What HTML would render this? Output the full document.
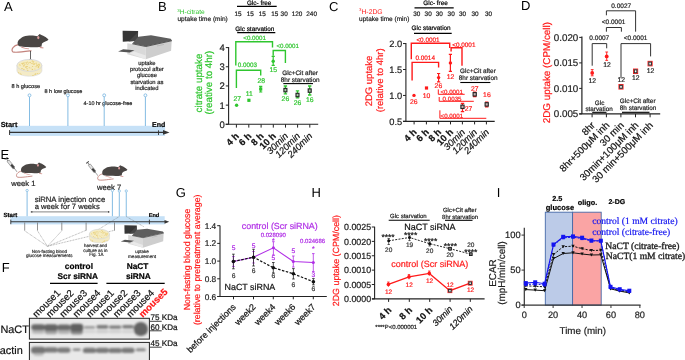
<!DOCTYPE html>
<html><head><meta charset="utf-8"><title>Figure</title>
<style>html,body{margin:0;padding:0;background:#fff;width:685px;height:360px;overflow:hidden}svg{display:block;filter:blur(0.3px)}</style>
</head><body>
<svg width="685" height="360" viewBox="0 0 685 360" text-rendering="geometricPrecision" font-family="&apos;Liberation Sans&apos;, sans-serif">
<rect width="685" height="360" fill="#fff"/>
<text x="4.0" y="10.8" font-size="13">A</text>
<g>
<path d="M18.4 44.6 C13.5 45.3 10.8 49.4 12.6 51.7 C14.5 53.1 24 51.7 31.5 50.7" stroke="#c4847e" stroke-width="1.1" fill="none"/>
<path d="M17.6 43.8 C17.3 41.4 18.6 39.4 20.6 38.4 C22.6 36.7 24.8 36.0 27.2 35.8 C30.2 35.4 32.6 35.5 34.6 35.8 C35.8 36.0 36.6 36.1 37.4 36.2 L39.6 34.0 L41.4 35.0 C43.7 35.6 46.4 37.6 48.5 39.5 C47.7 40.5 46.8 41.0 45.9 41.2 C44.3 41.7 43.0 42.6 42.0 43.6 L41.4 46.7 L39.4 47.0 C37.5 47.2 35.6 47.3 34.0 47.2 C31.5 47.2 29.5 47.1 28.0 47.0 C24.4 47.0 21.0 46.9 19.4 46.3 C18.3 45.8 17.7 44.9 17.6 43.8 Z" fill="#4a4644"/>
<ellipse cx="38.3" cy="37.6" rx="1.1" ry="1.6" fill="#d99c9c"/>
<path d="M40.0 46.6 L43.6 47.6 L43.3 48.4 L39.6 47.9 Z" fill="#d49a96"/>
<path d="M21.5 46.6 C24 47.8 27 48.4 29.2 48.6 L28.8 49.2 C25.5 49.1 22.5 48.3 20.8 47.2 Z" fill="#d49a96"/>
<circle cx="45.2" cy="37.9" r="0.45" fill="#222"/>
</g>
<line x1="30.5" y1="51" x2="30.5" y2="59.5" stroke="#222" stroke-width="0.7" />
<path d="M29.2 59.2 L31.8 59.2 L30.5 61.7 Z" stroke="none" stroke-width="1" fill="#222" />
<g>
<path d="M16.9 65.4 L16.9 70.5 C16.9 74 22.5 76.2 29.4 76.2 C36.3 76.2 41.9 74 41.9 70.5 L41.9 65.4 Z" fill="#f4ebc6" stroke="#d8d8dc" stroke-width="0.6"/>
<ellipse cx="29.4" cy="65.4" rx="12.5" ry="6" fill="#f5ecc4" stroke="#d4d6dc" stroke-width="0.8"/>
<g fill="#e6cc72" opacity="0.9">
<ellipse cx="23.5" cy="66.1" rx="0.65" ry="0.50"/><ellipse cx="32.2" cy="61.1" rx="0.51" ry="0.56"/><ellipse cx="24.0" cy="62.8" rx="0.90" ry="0.47"/><ellipse cx="36.9" cy="65.4" rx="0.76" ry="0.39"/><ellipse cx="32.4" cy="69.4" rx="0.71" ry="0.54"/><ellipse cx="35.2" cy="66.5" rx="0.62" ry="0.36"/><ellipse cx="37.6" cy="65.3" rx="0.79" ry="0.57"/><ellipse cx="27.0" cy="68.7" rx="0.68" ry="0.58"/><ellipse cx="32.2" cy="63.5" rx="0.70" ry="0.45"/><ellipse cx="26.1" cy="66.5" rx="0.73" ry="0.58"/><ellipse cx="33.2" cy="62.1" rx="0.84" ry="0.59"/><ellipse cx="38.5" cy="66.3" rx="0.79" ry="0.40"/><ellipse cx="36.8" cy="66.4" rx="0.61" ry="0.37"/><ellipse cx="27.4" cy="62.0" rx="0.62" ry="0.54"/><ellipse cx="34.3" cy="63.8" rx="0.85" ry="0.60"/><ellipse cx="22.6" cy="64.6" rx="0.74" ry="0.39"/><ellipse cx="38.3" cy="64.3" rx="0.68" ry="0.48"/><ellipse cx="32.6" cy="66.6" rx="0.72" ry="0.51"/><ellipse cx="39.3" cy="65.7" rx="0.67" ry="0.53"/><ellipse cx="23.5" cy="63.5" rx="0.89" ry="0.48"/><ellipse cx="27.5" cy="66.4" rx="0.51" ry="0.50"/><ellipse cx="32.4" cy="61.0" rx="0.75" ry="0.47"/><ellipse cx="33.4" cy="64.1" rx="0.78" ry="0.53"/><ellipse cx="23.8" cy="65.1" rx="0.74" ry="0.43"/><ellipse cx="26.4" cy="63.7" rx="0.65" ry="0.50"/><ellipse cx="24.9" cy="64.3" rx="0.81" ry="0.36"/><ellipse cx="31.0" cy="68.0" rx="0.62" ry="0.41"/><ellipse cx="36.2" cy="62.9" rx="0.57" ry="0.46"/><ellipse cx="33.8" cy="61.5" rx="0.63" ry="0.43"/><ellipse cx="36.9" cy="65.0" rx="0.84" ry="0.39"/><ellipse cx="25.7" cy="67.2" rx="0.85" ry="0.46"/><ellipse cx="30.1" cy="62.4" rx="0.82" ry="0.56"/><ellipse cx="22.3" cy="63.3" rx="0.82" ry="0.51"/><ellipse cx="36.3" cy="64.0" rx="0.55" ry="0.42"/><ellipse cx="36.0" cy="63.2" rx="0.64" ry="0.45"/><ellipse cx="27.6" cy="64.7" rx="0.87" ry="0.39"/><ellipse cx="27.9" cy="70.3" rx="0.87" ry="0.41"/><ellipse cx="34.9" cy="69.1" rx="0.77" ry="0.48"/><ellipse cx="24.7" cy="63.9" rx="0.59" ry="0.37"/><ellipse cx="31.4" cy="63.4" rx="0.82" ry="0.36"/><ellipse cx="38.4" cy="67.6" rx="0.87" ry="0.57"/><ellipse cx="38.4" cy="66.4" rx="0.51" ry="0.54"/><ellipse cx="22.0" cy="63.5" rx="0.77" ry="0.48"/><ellipse cx="27.5" cy="70.2" rx="0.74" ry="0.44"/><ellipse cx="23.9" cy="69.4" rx="0.69" ry="0.55"/><ellipse cx="26.1" cy="62.5" rx="0.71" ry="0.55"/><ellipse cx="22.0" cy="68.6" rx="0.87" ry="0.55"/><ellipse cx="32.3" cy="69.4" rx="0.52" ry="0.42"/><ellipse cx="24.2" cy="65.9" rx="0.67" ry="0.47"/><ellipse cx="20.1" cy="65.6" rx="0.63" ry="0.43"/><ellipse cx="26.1" cy="67.1" rx="0.73" ry="0.44"/><ellipse cx="22.5" cy="63.8" rx="0.55" ry="0.49"/><ellipse cx="34.2" cy="64.4" rx="0.53" ry="0.39"/><ellipse cx="26.6" cy="66.7" rx="0.81" ry="0.45"/><ellipse cx="36.1" cy="66.9" rx="0.67" ry="0.44"/><ellipse cx="29.3" cy="67.7" rx="0.67" ry="0.52"/><ellipse cx="28.5" cy="62.9" rx="0.71" ry="0.52"/><ellipse cx="19.8" cy="64.8" rx="0.67" ry="0.57"/><ellipse cx="39.2" cy="64.3" rx="0.86" ry="0.55"/><ellipse cx="24.1" cy="65.2" rx="0.55" ry="0.55"/><ellipse cx="32.9" cy="75.5" rx="0.7" ry="0.4"/><ellipse cx="35.7" cy="74.7" rx="0.7" ry="0.4"/><ellipse cx="34.4" cy="74.8" rx="0.7" ry="0.4"/><ellipse cx="20.8" cy="74.1" rx="0.7" ry="0.4"/><ellipse cx="18.7" cy="72.5" rx="0.7" ry="0.4"/><ellipse cx="35.3" cy="73.8" rx="0.7" ry="0.4"/><ellipse cx="20.6" cy="73.2" rx="0.7" ry="0.4"/><ellipse cx="37.6" cy="73.5" rx="0.7" ry="0.4"/><ellipse cx="19.1" cy="73.8" rx="0.7" ry="0.4"/><ellipse cx="21.2" cy="74.6" rx="0.7" ry="0.4"/><ellipse cx="33.1" cy="75.4" rx="0.7" ry="0.4"/><ellipse cx="39.2" cy="73.7" rx="0.7" ry="0.4"/><ellipse cx="35.9" cy="73.7" rx="0.7" ry="0.4"/><ellipse cx="35.2" cy="74.6" rx="0.7" ry="0.4"/>
</g>
</g>
<text x="11.5" y="87.8" font-size="5.6" fill="#222" stroke="#222" stroke-width="0.2">8 h glucose</text>
<text x="44.5" y="92.7" font-size="5.5" fill="#222" stroke="#222" stroke-width="0.2">8 h low glucose</text>
<text x="83.6" y="105.0" font-size="5.45" fill="#222" stroke="#222" stroke-width="0.2">4-10 hr glucose-free</text>
<g>
<path d="M127.3 43.2 L127.3 54.2 L145.8 59.2 L145.8 46.2 Z" fill="#d9d9d9"/>
<path d="M145.8 46.2 L171.7 40.5 L171.1 50.8 L145.8 59.2 Z" fill="#cecece"/>
<path d="M122.6 30.8 L138.1 31.1 L137.9 40.8 L122.8 41.7 Z" fill="#363636"/>
<path d="M128.5 41.5 L137.9 32.2 L137.9 40.8 Z" fill="#474747"/>
<path d="M132.3 43.6 L138.3 36.7 L151 35.3 L170.7 38.8 L171.9 40.4 L145.8 46.2 Z" fill="#5e5e5e"/>
<path d="M132.3 43.8 L145.8 46.5 L171.9 40.7" stroke="#3a3a3a" stroke-width="0.8" fill="none"/>
<path d="M118.1 51.4 L123.2 49.2 L134.5 50.2 L129.6 52.4 Z" fill="#555"/>
<path d="M129.6 53.6 L134.2 51.6 L145.8 55.6 L145.8 59.2 Z" fill="#e9e9e9"/>
<line x1="157" y1="46" x2="164" y2="44.4" stroke="#999" stroke-width="0.4"/>
</g>
<text x="146.9" y="65.2" font-size="5.8" fill="#222" stroke="#222" stroke-width="0.2" text-anchor="middle">uptake</text>
<text x="146.9" y="71.3" font-size="5.8" fill="#222" stroke="#222" stroke-width="0.2" text-anchor="middle">protocol after</text>
<text x="146.9" y="77.4" font-size="5.8" fill="#222" stroke="#222" stroke-width="0.2" text-anchor="middle">glucose</text>
<text x="146.9" y="83.5" font-size="5.8" fill="#222" stroke="#222" stroke-width="0.2" text-anchor="middle">starvation as</text>
<text x="146.9" y="89.6" font-size="5.8" fill="#222" stroke="#222" stroke-width="0.2" text-anchor="middle">indicated</text>
<rect x="10.1" y="125.8" width="155" height="10.1" fill="#c6e1f7"/>
<line x1="29.5" y1="96.8" x2="29.5" y2="126" stroke="#76b4e0" stroke-width="0.9" />
<circle cx="29.5" cy="95.3" r="1.45" fill="#fff" stroke="#76b4e0" stroke-width="0.8"/>
<line x1="67.9" y1="96.8" x2="67.9" y2="126" stroke="#76b4e0" stroke-width="0.9" />
<circle cx="67.9" cy="95.3" r="1.45" fill="#fff" stroke="#76b4e0" stroke-width="0.8"/>
<line x1="104.2" y1="96.8" x2="104.2" y2="126" stroke="#76b4e0" stroke-width="0.9" />
<circle cx="104.2" cy="95.3" r="1.45" fill="#fff" stroke="#76b4e0" stroke-width="0.8"/>
<line x1="145.4" y1="96.8" x2="145.4" y2="126" stroke="#76b4e0" stroke-width="0.9" />
<circle cx="145.4" cy="95.3" r="1.45" fill="#fff" stroke="#76b4e0" stroke-width="0.8"/>
<text x="0.7" y="127.1" font-size="7.3" stroke="#000" stroke-width="0.2" font-weight="bold">Start</text>
<text x="152" y="127.2" font-size="7" stroke="#000" stroke-width="0.2" font-weight="bold">End</text>
<line x1="9.5" y1="132.4" x2="165" y2="132.4" stroke="#333" stroke-width="1.2" />
<path d="M163 130.1 L169.5 132.4 L163 134.7 Z" stroke="none" stroke-width="1" fill="#333" />
<line x1="9.6" y1="130.1" x2="9.6" y2="135" stroke="#333" stroke-width="1" />
<line x1="158.5" y1="130.3" x2="158.5" y2="135" stroke="#333" stroke-width="0.9" />
<text x="157.9" y="10.8" font-size="13">B</text>
<text x="177.3" y="13.9" font-size="6.6" fill="#2fc62f"><tspan font-size="4.4" dy="-2.4">3</tspan><tspan dy="2.4">H-citrate</tspan></text>
<text x="177.5" y="20.9" font-size="6.5" fill="#222" stroke="#222" stroke-width="0.2">uptake time (min)</text>
<text x="246.9" y="4.9" font-size="6.4" stroke="#000" stroke-width="0.2">Glc- free</text>
<line x1="237" y1="6.4" x2="276.7" y2="6.4" stroke="#000" stroke-width="1.1" />
<text x="234.5" y="15.8" font-size="6.4" fill="#222" stroke="#222" stroke-width="0.2">15</text>
<text x="246.7" y="15.8" font-size="6.4" fill="#222" stroke="#222" stroke-width="0.2">15</text>
<text x="258.8" y="15.8" font-size="6.4" fill="#222" stroke="#222" stroke-width="0.2">15</text>
<text x="271.3" y="15.8" font-size="6.4" fill="#222" stroke="#222" stroke-width="0.2">15</text>
<text x="280.6" y="15.8" font-size="6.4" fill="#222" stroke="#222" stroke-width="0.2">30</text>
<text x="291.7" y="15.8" font-size="6.4" fill="#222" stroke="#222" stroke-width="0.2">120</text>
<text x="306.3" y="15.8" font-size="6.4" fill="#222" stroke="#222" stroke-width="0.2">240</text>
<text x="235.3" y="31" font-size="6.4" stroke="#000" stroke-width="0.2">Glc starvation</text>
<line x1="237.2" y1="32.6" x2="275.3" y2="32.6" stroke="#000" stroke-width="1.1" />
<line x1="228.6" y1="47.0" x2="228.6" y2="124.3" stroke="#222" stroke-width="1.1" />
<line x1="225.6" y1="124.3" x2="318.2" y2="124.3" stroke="#222" stroke-width="1.1" />
<line x1="225.8" y1="124.3" x2="228.6" y2="124.3" stroke="#222" stroke-width="1" />
<text x="224.9" y="127.7" font-size="9.5" fill="#222" stroke="#222" stroke-width="0.2" text-anchor="end">0</text>
<line x1="225.8" y1="105.125" x2="228.6" y2="105.125" stroke="#222" stroke-width="1" />
<text x="224.9" y="108.525" font-size="9.5" fill="#222" stroke="#222" stroke-width="0.2" text-anchor="end">1</text>
<line x1="225.8" y1="85.94999999999999" x2="228.6" y2="85.94999999999999" stroke="#222" stroke-width="1" />
<text x="224.9" y="89.35" font-size="9.5" fill="#222" stroke="#222" stroke-width="0.2" text-anchor="end">2</text>
<line x1="225.8" y1="66.77499999999999" x2="228.6" y2="66.77499999999999" stroke="#222" stroke-width="1" />
<text x="224.9" y="70.175" font-size="9.5" fill="#222" stroke="#222" stroke-width="0.2" text-anchor="end">3</text>
<line x1="225.8" y1="47.599999999999994" x2="228.6" y2="47.599999999999994" stroke="#222" stroke-width="1" />
<text x="224.9" y="50.99999999999999" font-size="9.5" fill="#222" stroke="#222" stroke-width="0.2" text-anchor="end">4</text>
<line x1="236.4" y1="124.3" x2="236.4" y2="127.6" stroke="#222" stroke-width="1" />
<line x1="248.8" y1="124.3" x2="248.8" y2="127.6" stroke="#222" stroke-width="1" />
<line x1="261.1" y1="124.3" x2="261.1" y2="127.6" stroke="#222" stroke-width="1" />
<line x1="273.3" y1="124.3" x2="273.3" y2="127.6" stroke="#222" stroke-width="1" />
<line x1="285.5" y1="124.3" x2="285.5" y2="127.6" stroke="#222" stroke-width="1" />
<line x1="297.6" y1="124.3" x2="297.6" y2="127.6" stroke="#222" stroke-width="1" />
<line x1="309.8" y1="124.3" x2="309.8" y2="127.6" stroke="#222" stroke-width="1" />
<text x="239.6" y="136.6" font-size="9.4" fill="#111" stroke="#111" stroke-width="0.2" font-weight="bold" text-anchor="end" transform="rotate(-45 239.6 136.6)">4 h</text>
<text x="252.0" y="136.6" font-size="9.4" fill="#111" stroke="#111" stroke-width="0.2" font-weight="bold" text-anchor="end" transform="rotate(-45 252.0 136.6)">6 h</text>
<text x="264.3" y="136.6" font-size="9.4" fill="#111" stroke="#111" stroke-width="0.2" font-weight="bold" text-anchor="end" transform="rotate(-45 264.3 136.6)">8 h</text>
<text x="276.5" y="136.6" font-size="9.4" fill="#111" stroke="#111" stroke-width="0.2" font-weight="bold" text-anchor="end" transform="rotate(-45 276.5 136.6)">10 h</text>
<text x="288.7" y="136.6" font-size="9.4" fill="#111" stroke="#111" stroke-width="0.2" text-anchor="end" font-style="italic" transform="rotate(-45 288.7 136.6)">30min</text>
<text x="300.8" y="136.6" font-size="9.4" fill="#111" stroke="#111" stroke-width="0.2" text-anchor="end" font-style="italic" transform="rotate(-45 300.8 136.6)">120min</text>
<text x="313.0" y="136.6" font-size="9.4" fill="#111" stroke="#111" stroke-width="0.2" text-anchor="end" font-style="italic" transform="rotate(-45 313.0 136.6)">240min</text>
<path d="M235.8 65.4 V41.8 H272.5 V47.4" stroke="#2fc62f" stroke-width="1.4" fill="none" />
<text x="243.3" y="40.3" font-size="6.2" fill="#2fc62f" stroke="#2fc62f" stroke-width="0.2">&lt;0.0001</text>
<path d="M236.4 88 V70.3 H260.7 V75.6" stroke="#2fc62f" stroke-width="1.4" fill="none" />
<text x="237.8" y="66.9" font-size="6.3" fill="#2fc62f" stroke="#2fc62f" stroke-width="0.2">0.0003</text>
<path d="M273.2 55.7 V50.5 H285.4 V62.9" stroke="#2fc62f" stroke-width="1.4" fill="none" />
<text x="276.4" y="47.5" font-size="6.2" fill="#2fc62f" stroke="#2fc62f" stroke-width="0.2">&lt;0.0001</text>
<circle cx="236.6" cy="105.3" r="1.7" fill="#2fc62f"/>
<text x="237.2" y="100.5" font-size="6.8" fill="#2fc62f" stroke="#2fc62f" stroke-width="0.2" text-anchor="middle">27</text>
<line x1="248.9" y1="98.9" x2="248.9" y2="101.7" stroke="#2fc62f" stroke-width="0.8" />
<rect x="247.3" y="98.7" width="3.2" height="3.2" fill="#2fc62f"/>
<text x="249.2" y="95.7" font-size="6.8" fill="#2fc62f" stroke="#2fc62f" stroke-width="0.2" text-anchor="middle">11</text>
<path d="M259.1 86.4 H262.3 M260.7 86.4 V92 M259.1 92 H262.3" stroke="#2fc62f" stroke-width="1.2" fill="none" />
<rect x="259.1" y="87.4" width="3.2" height="3.2" fill="#2fc62f"/>
<text x="261.3" y="83.2" font-size="6.8" fill="#2fc62f" stroke="#2fc62f" stroke-width="0.2" text-anchor="middle">28</text>
<path d="M271.6 56.4 H274.8 M273.2 56.4 V65.4 M271.6 65.4 H274.8" stroke="#2fc62f" stroke-width="1.2" fill="none" />
<circle cx="273.2" cy="61.3" r="1.7" fill="#2fc62f"/>
<text x="273.3" y="72" font-size="6.8" fill="#2fc62f" stroke="#2fc62f" stroke-width="0.2" text-anchor="middle">15</text>
<path d="M283.7 86.0 H287.09999999999997 M285.4 86.0 V93.8 M283.7 93.8 H287.09999999999997" stroke="#2fc62f" stroke-width="1.3" fill="none" />
<rect x="283.9" y="88.39999999999999" width="3.0" height="3.4" fill="#a8c8a8" stroke="#222" stroke-width="1.1"/>
<text x="285.4" y="101.2" font-size="6.8" fill="#2fc62f" stroke="#2fc62f" stroke-width="0.2" text-anchor="middle">26</text>
<path d="M295.8 90.8 H299.2 M297.5 90.8 V97.8 M295.8 97.8 H299.2" stroke="#2fc62f" stroke-width="1.3" fill="none" />
<rect x="296.0" y="93.3" width="3.0" height="3.4" fill="#a8c8a8" stroke="#222" stroke-width="1.1"/>
<text x="297.5" y="104.7" font-size="6.8" fill="#2fc62f" stroke="#2fc62f" stroke-width="0.2" text-anchor="middle">26</text>
<path d="M308.0 86.0 H311.4 M309.7 86.0 V95.0 M308.0 95.0 H311.4" stroke="#2fc62f" stroke-width="1.3" fill="none" />
<rect x="308.2" y="88.89999999999999" width="3.0" height="3.4" fill="#a8c8a8" stroke="#222" stroke-width="1.1"/>
<text x="309.7" y="102.4" font-size="6.8" fill="#2fc62f" stroke="#2fc62f" stroke-width="0.2" text-anchor="middle">16</text>
<text x="282.2" y="74.9" font-size="6.4" fill="#222" stroke="#222" stroke-width="0.2">Glc+Cit after</text>
<text x="280.8" y="82.0" font-size="6.4" fill="#222" stroke="#222" stroke-width="0.2">8hr starvation</text>
<line x1="283.3" y1="83.6" x2="313" y2="83.6" stroke="#000" stroke-width="1.1" />
<text x="201.6" y="83" font-size="9.8" fill="#2fc62f" stroke="#2fc62f" stroke-width="0.2" text-anchor="middle" transform="rotate(-90 201.6 83)">citrate uptake</text>
<text x="212.1" y="82.6" font-size="9.8" fill="#2fc62f" stroke="#2fc62f" stroke-width="0.2" text-anchor="middle" transform="rotate(-90 212.1 82.6)">(reative to 4hr)</text>
<text x="329.0" y="10.9" font-size="13">C</text>
<text x="359" y="13.8" font-size="6.8" fill="#ff1a1a"><tspan font-size="4.4" dy="-2.4">3</tspan><tspan dy="2.4">H-2DG</tspan></text>
<text x="359.1" y="21" font-size="6.5" fill="#222" stroke="#222" stroke-width="0.2">uptake time (min)</text>
<text x="423.3" y="5.2" font-size="6.4" stroke="#000" stroke-width="0.2">Glc- free</text>
<line x1="414.5" y1="7.9" x2="453.7" y2="7.9" stroke="#000" stroke-width="1.2" />
<text x="413.2" y="15.7" font-size="6.4" fill="#222" stroke="#222" stroke-width="0.2">30</text>
<text x="424.6" y="15.7" font-size="6.4" fill="#222" stroke="#222" stroke-width="0.2">30</text>
<text x="435.8" y="15.7" font-size="6.4" fill="#222" stroke="#222" stroke-width="0.2">30</text>
<text x="447.6" y="15.7" font-size="6.4" fill="#222" stroke="#222" stroke-width="0.2">30</text>
<text x="459.0" y="15.7" font-size="6.4" fill="#222" stroke="#222" stroke-width="0.2">30</text>
<text x="471.5" y="15.7" font-size="6.4" fill="#222" stroke="#222" stroke-width="0.2">30</text>
<text x="484.9" y="15.7" font-size="6.4" fill="#222" stroke="#222" stroke-width="0.2">30</text>
<text x="411.6" y="30.1" font-size="6.4" stroke="#000" stroke-width="0.2">Glc starvation</text>
<line x1="414" y1="33.3" x2="451.7" y2="33.3" stroke="#000" stroke-width="1.2" />
<line x1="405.9" y1="43.0" x2="405.9" y2="121.4" stroke="#222" stroke-width="1.1" />
<line x1="403" y1="121.4" x2="494.7" y2="121.4" stroke="#222" stroke-width="1.1" />
<line x1="403.0" y1="43.55000000000001" x2="405.9" y2="43.55000000000001" stroke="#222" stroke-width="1" />
<text x="402.2" y="46.85000000000001" font-size="9.3" fill="#222" stroke="#222" stroke-width="0.2" text-anchor="end">2.0</text>
<line x1="403.0" y1="69.5" x2="405.9" y2="69.5" stroke="#222" stroke-width="1" />
<text x="402.2" y="72.8" font-size="9.3" fill="#222" stroke="#222" stroke-width="0.2" text-anchor="end">1.5</text>
<line x1="403.0" y1="95.45" x2="405.9" y2="95.45" stroke="#222" stroke-width="1" />
<text x="402.2" y="98.75" font-size="9.3" fill="#222" stroke="#222" stroke-width="0.2" text-anchor="end">1.0</text>
<line x1="403.0" y1="121.4" x2="405.9" y2="121.4" stroke="#222" stroke-width="1" />
<text x="402.2" y="124.7" font-size="9.3" fill="#222" stroke="#222" stroke-width="0.2" text-anchor="end">0.5</text>
<line x1="414.1" y1="121.4" x2="414.1" y2="124.4" stroke="#222" stroke-width="1" />
<line x1="426.4" y1="121.4" x2="426.4" y2="124.4" stroke="#222" stroke-width="1" />
<line x1="438.6" y1="121.4" x2="438.6" y2="124.4" stroke="#222" stroke-width="1" />
<line x1="450.5" y1="121.4" x2="450.5" y2="124.4" stroke="#222" stroke-width="1" />
<line x1="462.4" y1="121.4" x2="462.4" y2="124.4" stroke="#222" stroke-width="1" />
<line x1="474.6" y1="121.4" x2="474.6" y2="124.4" stroke="#222" stroke-width="1" />
<line x1="486.4" y1="121.4" x2="486.4" y2="124.4" stroke="#222" stroke-width="1" />
<text x="417.3" y="132.7" font-size="9.4" fill="#111" stroke="#111" stroke-width="0.2" font-weight="bold" text-anchor="end" transform="rotate(-45 417.3 132.7)">4 h</text>
<text x="429.6" y="132.7" font-size="9.4" fill="#111" stroke="#111" stroke-width="0.2" font-weight="bold" text-anchor="end" transform="rotate(-45 429.6 132.7)">6 h</text>
<text x="441.8" y="132.7" font-size="9.4" fill="#111" stroke="#111" stroke-width="0.2" font-weight="bold" text-anchor="end" transform="rotate(-45 441.8 132.7)">8 h</text>
<text x="453.7" y="132.7" font-size="9.4" fill="#111" stroke="#111" stroke-width="0.2" font-weight="bold" text-anchor="end" transform="rotate(-45 453.7 132.7)">10 h</text>
<text x="465.6" y="132.7" font-size="9.4" fill="#111" stroke="#111" stroke-width="0.2" text-anchor="end" font-style="italic" transform="rotate(-45 465.6 132.7)">30min</text>
<text x="477.8" y="132.7" font-size="9.4" fill="#111" stroke="#111" stroke-width="0.2" text-anchor="end" font-style="italic" transform="rotate(-45 477.8 132.7)">120min</text>
<text x="489.6" y="132.7" font-size="9.4" fill="#111" stroke="#111" stroke-width="0.2" text-anchor="end" font-style="italic" transform="rotate(-45 489.6 132.7)">240min</text>
<path d="M411.3 59.2 V43.2 H449.7 V48" stroke="#ff1a1a" stroke-width="1.4" fill="none" />
<text x="416.4" y="42.2" font-size="6.4" fill="#ff1a1a" stroke="#ff1a1a" stroke-width="0.2">&lt;0.0001</text>
<path d="M412.1 80.4 V62.4 H438.6 V67.5" stroke="#ff1a1a" stroke-width="1.4" fill="none" />
<text x="415.4" y="59.9" font-size="6.4" fill="#ff1a1a" stroke="#ff1a1a" stroke-width="0.2">0.0014</text>
<path d="M451.1 51.5 V47.8 H462 V65.8" stroke="#ff1a1a" stroke-width="1.4" fill="none" />
<text x="452.2" y="46.7" font-size="6.4" fill="#ff1a1a" stroke="#ff1a1a" stroke-width="0.2">&lt;0.0001</text>
<path d="M438.3 89.4 V94.3 H464.7" stroke="#ff1a1a" stroke-width="1.0" fill="none" />
<text x="440.4" y="93.6" font-size="6.2" fill="#ff1a1a" stroke="#ff1a1a" stroke-width="0.2">&lt;0.0001</text>
<path d="M439.2 97 V101.3 H473.8" stroke="#ff1a1a" stroke-width="1.0" fill="none" />
<text x="442.6" y="100.7" font-size="6.2" fill="#ff1a1a" stroke="#ff1a1a" stroke-width="0.2">0.0035</text>
<path d="M439.9 110.3 V118.3 H486.3" stroke="#ff1a1a" stroke-width="1.0" fill="none" />
<text x="440.6" y="117.9" font-size="6.2" fill="#ff1a1a" stroke="#ff1a1a" stroke-width="0.2">&lt;0.0001</text>
<circle cx="414.0" cy="95.4" r="1.7" fill="#ff1a1a"/>
<text x="413.7" y="104" font-size="6.8" fill="#ff1a1a" stroke="#ff1a1a" stroke-width="0.2" text-anchor="middle">26</text>
<rect x="424.9" y="86.4" width="3.2" height="3.2" fill="#ff1a1a"/>
<text x="426.5" y="98" font-size="6.8" fill="#ff1a1a" stroke="#ff1a1a" stroke-width="0.2" text-anchor="middle">10</text>
<path d="M437.0 73.5 H440.2 M438.6 73.5 V81.8 M437.0 81.8 H440.2" stroke="#ff1a1a" stroke-width="1.2" fill="none" />
<circle cx="438.6" cy="77.6" r="1.7" fill="#ff1a1a"/>
<text x="438.4" y="88" font-size="6.8" fill="#ff1a1a" stroke="#ff1a1a" stroke-width="0.2" text-anchor="middle">26</text>
<path d="M448.8 54.3 H452.0 M450.4 54.3 V71.3 M448.8 71.3 H452.0" stroke="#ff1a1a" stroke-width="1.2" fill="none" />
<circle cx="450.4" cy="62.9" r="1.7" fill="#ff1a1a"/>
<text x="450.5" y="79.3" font-size="6.8" fill="#ff1a1a" stroke="#ff1a1a" stroke-width="0.2" text-anchor="middle">12</text>
<path d="M460.8 103.3 H464.2 M462.5 103.3 V111.7 M460.8 111.7 H464.2" stroke="#ff1a1a" stroke-width="1.2" fill="none" />
<rect x="460.9" y="105.1" width="3.2" height="3.4" fill="#c9b0b0" stroke="#222" stroke-width="1.1"/>
<path d="M473.0 92 H476.4 M474.7 92 V96.6 M473.0 96.6 H476.4" stroke="#ff1a1a" stroke-width="1.2" fill="none" />
<rect x="473.09999999999997" y="92.6" width="3.2" height="3.4" fill="#c9b0b0" stroke="#222" stroke-width="1.1"/>
<path d="M485.0 102 H488.4 M486.7 102 V106.8 M485.0 106.8 H488.4" stroke="#ff1a1a" stroke-width="1.2" fill="none" />
<rect x="485.09999999999997" y="102.7" width="3.2" height="3.4" fill="#c9b0b0" stroke="#222" stroke-width="1.1"/>
<text x="468.6" y="111.4" font-size="6.8" fill="#ff1a1a" stroke="#ff1a1a" stroke-width="0.2" text-anchor="middle">27</text>
<text x="474.8" y="90.8" font-size="6.8" fill="#ff1a1a" stroke="#ff1a1a" stroke-width="0.2" text-anchor="middle">27</text>
<text x="486.9" y="96.7" font-size="6.8" fill="#ff1a1a" stroke="#ff1a1a" stroke-width="0.2" text-anchor="middle">16</text>
<text x="460.1" y="73" font-size="6.4" fill="#222" stroke="#222" stroke-width="0.2">Glc+Cit after</text>
<text x="458.8" y="80" font-size="6.4" fill="#222" stroke="#222" stroke-width="0.2">8hr starvation</text>
<line x1="460.3" y1="82.5" x2="490.4" y2="82.5" stroke="#000" stroke-width="1.1" />
<text x="371.5" y="81" font-size="9.5" fill="#ff1a1a" stroke="#ff1a1a" stroke-width="0.2" text-anchor="middle" transform="rotate(-90 371.5 81)">2DG uptake</text>
<text x="382.6" y="80.3" font-size="9.5" fill="#ff1a1a" stroke="#ff1a1a" stroke-width="0.2" text-anchor="middle" transform="rotate(-90 382.6 80.3)">(relative to 4hr)</text>
<text x="521.1" y="10.4" font-size="13">D</text>
<line x1="581.9" y1="36.6" x2="581.9" y2="113.9" stroke="#222" stroke-width="1.2" />
<line x1="579.2" y1="113.9" x2="660.2" y2="113.9" stroke="#222" stroke-width="1.2" />
<line x1="579.2" y1="37.400000000000006" x2="581.9" y2="37.400000000000006" stroke="#222" stroke-width="1" />
<text x="578.3" y="40.900000000000006" font-size="9.8" fill="#222" stroke="#222" stroke-width="0.2" text-anchor="end">0.020</text>
<line x1="579.2" y1="62.90000000000002" x2="581.9" y2="62.90000000000002" stroke="#222" stroke-width="1" />
<text x="578.3" y="66.40000000000002" font-size="9.8" fill="#222" stroke="#222" stroke-width="0.2" text-anchor="end">0.015</text>
<line x1="579.2" y1="88.4" x2="581.9" y2="88.4" stroke="#222" stroke-width="1" />
<text x="578.3" y="91.9" font-size="9.8" fill="#222" stroke="#222" stroke-width="0.2" text-anchor="end">0.010</text>
<line x1="579.2" y1="113.9" x2="581.9" y2="113.9" stroke="#222" stroke-width="1" />
<text x="578.3" y="117.4" font-size="9.8" fill="#222" stroke="#222" stroke-width="0.2" text-anchor="end">0.005</text>
<line x1="592.1" y1="113.9" x2="592.1" y2="117.3" stroke="#222" stroke-width="1" />
<line x1="606.4" y1="113.9" x2="606.4" y2="117.3" stroke="#222" stroke-width="1" />
<line x1="620.9" y1="113.9" x2="620.9" y2="117.3" stroke="#222" stroke-width="1" />
<line x1="635.5" y1="113.9" x2="635.5" y2="117.3" stroke="#222" stroke-width="1" />
<line x1="650.1" y1="113.9" x2="650.1" y2="117.3" stroke="#222" stroke-width="1" />
<text x="595.7" y="125.9" font-size="9.8" fill="#111" stroke="#111" stroke-width="0.2" text-anchor="end" transform="rotate(-45 595.7 125.9)">8hr</text>
<text x="610.0" y="125.9" font-size="9.8" fill="#111" stroke="#111" stroke-width="0.2" text-anchor="end" transform="rotate(-45 610.0 125.9)">8hr+500&#956;M inh</text>
<text x="624.5" y="125.9" font-size="9.8" fill="#111" stroke="#111" stroke-width="0.2" text-anchor="end" transform="rotate(-45 624.5 125.9)">30 min</text>
<text x="639.1" y="125.9" font-size="9.8" fill="#111" stroke="#111" stroke-width="0.2" text-anchor="end" transform="rotate(-45 639.1 125.9)">30min+100&#956;M inh</text>
<text x="653.7" y="125.9" font-size="9.8" fill="#111" stroke="#111" stroke-width="0.2" text-anchor="end" transform="rotate(-45 653.7 125.9)">30 min+500&#956;M inh</text>
<path d="M606.4 15.3 V10.8 H635.6 V31.7" stroke="#333" stroke-width="1.0" fill="none" />
<text x="621.2" y="7.6" font-size="6.5" fill="#222" stroke="#222" stroke-width="0.2" text-anchor="middle">0.0027</text>
<path d="M606.4 31.7 V27.5 H621.4 V31.7" stroke="#333" stroke-width="1.0" fill="none" />
<text x="613.6" y="23.9" font-size="6.5" fill="#222" stroke="#222" stroke-width="0.2" text-anchor="middle">&lt;0.0001</text>
<path d="M592.2 65.7 V43.6 H606.7 V48.3" stroke="#333" stroke-width="1.0" fill="none" />
<text x="599.3" y="40.3" font-size="6.5" fill="#222" stroke="#222" stroke-width="0.2" text-anchor="middle">0.0007</text>
<path d="M621 78.2 V43.6 H650.6 V56.4" stroke="#333" stroke-width="1.0" fill="none" />
<text x="635.6" y="40.3" font-size="6.5" fill="#222" stroke="#222" stroke-width="0.2" text-anchor="middle">&lt;0.0001</text>
<path d="M590.8 69.6 H593.6 M592.2 69.6 V75.8 M590.8 75.8 H593.6" stroke="#ff1a1a" stroke-width="0.9" fill="none" />
<circle cx="592.2" cy="72.9" r="1.9" fill="#ff1a1a"/>
<text x="592.2" y="82.8" font-size="6.8" fill="#222" stroke="#222" stroke-width="0.2" text-anchor="middle">12</text>
<path d="M605.3 52.0 H608.1 M606.7 52.0 V60.4 M605.3 60.4 H608.1" stroke="#ff1a1a" stroke-width="0.9" fill="none" />
<circle cx="606.7" cy="56.4" r="1.9" fill="#ff1a1a"/>
<text x="607.1" y="67" font-size="6.8" fill="#222" stroke="#222" stroke-width="0.2" text-anchor="middle">12</text>
<rect x="618.9" y="84.5" width="4.2" height="4.6" fill="none" stroke="#ff1a1a" stroke-width="0.9"/>
<rect x="619.7" y="85.3" width="2.6" height="3.0" fill="#fff" stroke="#222" stroke-width="1.0"/>
<rect x="633.5" y="69.0" width="4.2" height="4.6" fill="none" stroke="#ff1a1a" stroke-width="0.9"/>
<rect x="634.3000000000001" y="69.8" width="2.6" height="3.0" fill="#fff" stroke="#222" stroke-width="1.0"/>
<rect x="648.0" y="61.300000000000004" width="4.2" height="4.6" fill="none" stroke="#ff1a1a" stroke-width="0.9"/>
<rect x="648.8000000000001" y="62.1" width="2.6" height="3.0" fill="#fff" stroke="#222" stroke-width="1.0"/>
<text x="621.2" y="81.7" font-size="6.8" fill="#222" stroke="#222" stroke-width="0.2" text-anchor="middle">12</text>
<text x="635.8" y="79.6" font-size="6.8" fill="#222" stroke="#222" stroke-width="0.2" text-anchor="middle">12</text>
<text x="650.5" y="73" font-size="6.8" fill="#222" stroke="#222" stroke-width="0.2" text-anchor="middle">12</text>
<text x="599.6" y="104.5" font-size="6.3" fill="#222" stroke="#222" stroke-width="0.2" text-anchor="middle">Glc</text>
<text x="599.1" y="110.9" font-size="6.3" fill="#222" stroke="#222" stroke-width="0.2" text-anchor="middle">starvation</text>
<line x1="592.2" y1="112.4" x2="606.5" y2="112.4" stroke="#222" stroke-width="1.4" />
<text x="637.7" y="103.3" font-size="6.4" fill="#222" stroke="#222" stroke-width="0.2" text-anchor="middle">Glc+Cit after</text>
<text x="638.1" y="110.3" font-size="6.4" fill="#222" stroke="#222" stroke-width="0.2" text-anchor="middle">8h starvation</text>
<line x1="622" y1="112.4" x2="649.5" y2="112.4" stroke="#222" stroke-width="1.4" />
<text x="549.6" y="72.6" font-size="9.85" fill="#ff1a1a" stroke="#ff1a1a" stroke-width="0.2" text-anchor="middle" transform="rotate(-90 549.6 72.6)">2DG uptake (CPM/cell)</text>
<text x="0.6" y="158.9" font-size="13">E</text>
<g transform="matrix(0.817 0 0 0.817 6.64 134.64)"><g>
<path d="M18.4 44.6 C13.5 45.3 10.8 49.4 12.6 51.7 C14.5 53.1 24 51.7 31.5 50.7" stroke="#c4847e" stroke-width="1.1" fill="none"/>
<path d="M17.6 43.8 C17.3 41.4 18.6 39.4 20.6 38.4 C22.6 36.7 24.8 36.0 27.2 35.8 C30.2 35.4 32.6 35.5 34.6 35.8 C35.8 36.0 36.6 36.1 37.4 36.2 L39.6 34.0 L41.4 35.0 C43.7 35.6 46.4 37.6 48.5 39.5 C47.7 40.5 46.8 41.0 45.9 41.2 C44.3 41.7 43.0 42.6 42.0 43.6 L41.4 46.7 L39.4 47.0 C37.5 47.2 35.6 47.3 34.0 47.2 C31.5 47.2 29.5 47.1 28.0 47.0 C24.4 47.0 21.0 46.9 19.4 46.3 C18.3 45.8 17.7 44.9 17.6 43.8 Z" fill="#4a4644"/>
<ellipse cx="38.3" cy="37.6" rx="1.1" ry="1.6" fill="#d99c9c"/>
<path d="M40.0 46.6 L43.6 47.6 L43.3 48.4 L39.6 47.9 Z" fill="#d49a96"/>
<path d="M21.5 46.6 C24 47.8 27 48.4 29.2 48.6 L28.8 49.2 C25.5 49.1 22.5 48.3 20.8 47.2 Z" fill="#d49a96"/>
<circle cx="45.2" cy="37.9" r="0.45" fill="#222"/>
</g></g>
<g transform="matrix(0.817 0 0 0.817 87.84 137.44)"><g>
<path d="M18.4 44.6 C13.5 45.3 10.8 49.4 12.6 51.7 C14.5 53.1 24 51.7 31.5 50.7" stroke="#c4847e" stroke-width="1.1" fill="none"/>
<path d="M17.6 43.8 C17.3 41.4 18.6 39.4 20.6 38.4 C22.6 36.7 24.8 36.0 27.2 35.8 C30.2 35.4 32.6 35.5 34.6 35.8 C35.8 36.0 36.6 36.1 37.4 36.2 L39.6 34.0 L41.4 35.0 C43.7 35.6 46.4 37.6 48.5 39.5 C47.7 40.5 46.8 41.0 45.9 41.2 C44.3 41.7 43.0 42.6 42.0 43.6 L41.4 46.7 L39.4 47.0 C37.5 47.2 35.6 47.3 34.0 47.2 C31.5 47.2 29.5 47.1 28.0 47.0 C24.4 47.0 21.0 46.9 19.4 46.3 C18.3 45.8 17.7 44.9 17.6 43.8 Z" fill="#4a4644"/>
<ellipse cx="38.3" cy="37.6" rx="1.1" ry="1.6" fill="#d99c9c"/>
<path d="M40.0 46.6 L43.6 47.6 L43.3 48.4 L39.6 47.9 Z" fill="#d49a96"/>
<path d="M21.5 46.6 C24 47.8 27 48.4 29.2 48.6 L28.8 49.2 C25.5 49.1 22.5 48.3 20.8 47.2 Z" fill="#d49a96"/>
<circle cx="45.2" cy="37.9" r="0.45" fill="#222"/>
</g></g>
<g transform="translate(6.0 158.3) rotate(50.8)"><g>
<rect x="-0.3" y="-1.7" width="0.9" height="3.4" fill="#333"/>
<rect x="0.6" y="-0.45" width="2.8" height="0.9" fill="#777"/>
<rect x="3.2" y="-1.25" width="9" height="2.5" fill="#e4e4e4" stroke="#555" stroke-width="0.45"/>
<rect x="8.2" y="-1.0" width="4" height="2.0" fill="#3c3c3c"/>
<rect x="12.2" y="-0.7" width="1.2" height="1.4" fill="#444"/>
<rect x="13.4" y="-0.22" width="4.2" height="0.44" fill="#555"/>
</g></g>
<g transform="translate(87.4 162.3) rotate(51.8) scale(0.97)"><g>
<rect x="-0.3" y="-1.7" width="0.9" height="3.4" fill="#333"/>
<rect x="0.6" y="-0.45" width="2.8" height="0.9" fill="#777"/>
<rect x="3.2" y="-1.25" width="9" height="2.5" fill="#e4e4e4" stroke="#555" stroke-width="0.45"/>
<rect x="8.2" y="-1.0" width="4" height="2.0" fill="#3c3c3c"/>
<rect x="12.2" y="-0.7" width="1.2" height="1.4" fill="#444"/>
<rect x="13.4" y="-0.22" width="4.2" height="0.44" fill="#555"/>
</g></g>
<text x="11.3" y="186.2" font-size="7.6" fill="#222" stroke="#222" stroke-width="0.2">week 1</text>
<text x="97" y="189.6" font-size="7.7" fill="#222" stroke="#222" stroke-width="0.2">week 7</text>
<rect x="10.4" y="216.2" width="154.3" height="8.2" fill="#c6e1f7"/>
<line x1="27.1" y1="191.7" x2="27.1" y2="216.2" stroke="#76b4e0" stroke-width="0.9" />
<circle cx="27.1" cy="190.5" r="1.15" fill="#fff" stroke="#76b4e0" stroke-width="0.7"/>
<line x1="112.4" y1="191.7" x2="112.4" y2="216.2" stroke="#76b4e0" stroke-width="0.9" />
<circle cx="112.4" cy="190.5" r="1.15" fill="#fff" stroke="#76b4e0" stroke-width="0.7"/>
<line x1="119.3" y1="192.2" x2="119.3" y2="216.2" stroke="#76b4e0" stroke-width="0.9" />
<circle cx="119.3" cy="191" r="1.15" fill="#fff" stroke="#76b4e0" stroke-width="0.7"/>
<line x1="126.25" y1="192.2" x2="126.25" y2="216.2" stroke="#76b4e0" stroke-width="0.9" />
<circle cx="126.25" cy="191" r="1.15" fill="#fff" stroke="#76b4e0" stroke-width="0.7"/>
<text x="34.7" y="202.0" font-size="7.7" fill="#222" stroke="#222" stroke-width="0.2">siRNA injection once</text>
<text x="34.7" y="208.6" font-size="7.6" fill="#222" stroke="#222" stroke-width="0.2">a week for 7 weeks</text>
<line x1="31" y1="211.9" x2="109" y2="211.9" stroke="#333" stroke-width="0.6" />
<path d="M30.3 211.9 L32.3 211.0 L32.3 212.8 Z" stroke="none" stroke-width="1" fill="#333" />
<path d="M110 211.9 L108 211.0 L108 212.8 Z" stroke="none" stroke-width="1" fill="#333" />
<text x="3.5" y="217.1" font-size="6.1" stroke="#000" stroke-width="0.2" font-weight="bold">Start</text>
<text x="148.7" y="217.1" font-size="5.6" stroke="#000" stroke-width="0.2" font-weight="bold">End</text>
<line x1="10.8" y1="221.8" x2="166" y2="221.8" stroke="#333" stroke-width="1.1" />
<path d="M164.5 219.9 L169.2 221.8 L164.5 223.7 Z" stroke="none" stroke-width="1" fill="#333" />
<line x1="10.8" y1="219.6" x2="10.8" y2="224.2" stroke="#333" stroke-width="0.9" />
<line x1="149.4" y1="219.6" x2="149.4" y2="224.2" stroke="#333" stroke-width="0.9" />
<line x1="24.7" y1="222.5" x2="24.7" y2="230.5" stroke="#777" stroke-width="0.8" />
<line x1="37.5" y1="222.5" x2="37.5" y2="230.5" stroke="#777" stroke-width="0.8" />
<line x1="61.8" y1="222.5" x2="61.8" y2="230.5" stroke="#777" stroke-width="0.8" />
<line x1="86.1" y1="222.5" x2="86.1" y2="230.5" stroke="#777" stroke-width="0.8" />
<line x1="114.5" y1="222.5" x2="114.5" y2="230.5" stroke="#777" stroke-width="0.8" />
<line x1="24.7" y1="230.8" x2="47.4" y2="246.3" stroke="#555" stroke-width="0.45" stroke-dasharray="0.9 0.7"/>
<line x1="37.5" y1="230.8" x2="47.4" y2="246.3" stroke="#555" stroke-width="0.45" stroke-dasharray="0.9 0.7"/>
<line x1="61.8" y1="230.8" x2="47.4" y2="246.3" stroke="#555" stroke-width="0.45" stroke-dasharray="0.9 0.7"/>
<line x1="86.1" y1="230.3" x2="47.4" y2="246.3" stroke="#555" stroke-width="0.45" stroke-dasharray="0.9 0.7"/>
<line x1="114.5" y1="230.3" x2="47.4" y2="246.3" stroke="#555" stroke-width="0.45" stroke-dasharray="0.9 0.7"/>
<line x1="119.3" y1="216.5" x2="96" y2="231" stroke="#555" stroke-width="0.45" stroke-dasharray="0.9 0.7"/>
<line x1="126.25" y1="216.5" x2="144" y2="226.8" stroke="#555" stroke-width="0.45" stroke-dasharray="0.9 0.7"/>
<text x="31.8" y="252.9" font-size="4.5" fill="#333" stroke="#333" stroke-width="0.2">Non-fasting blood</text>
<text x="26" y="257.3" font-size="4.5" fill="#333" stroke="#333" stroke-width="0.2">glucose measurements</text>
<g transform="matrix(0.81 0 0 0.81 75.6 181.1)"><g>
<path d="M16.9 65.4 L16.9 70.5 C16.9 74 22.5 76.2 29.4 76.2 C36.3 76.2 41.9 74 41.9 70.5 L41.9 65.4 Z" fill="#f4ebc6" stroke="#d8d8dc" stroke-width="0.6"/>
<ellipse cx="29.4" cy="65.4" rx="12.5" ry="6" fill="#f5ecc4" stroke="#d4d6dc" stroke-width="0.8"/>
<g fill="#e6cc72" opacity="0.9">
<ellipse cx="23.5" cy="66.1" rx="0.65" ry="0.50"/><ellipse cx="32.2" cy="61.1" rx="0.51" ry="0.56"/><ellipse cx="24.0" cy="62.8" rx="0.90" ry="0.47"/><ellipse cx="36.9" cy="65.4" rx="0.76" ry="0.39"/><ellipse cx="32.4" cy="69.4" rx="0.71" ry="0.54"/><ellipse cx="35.2" cy="66.5" rx="0.62" ry="0.36"/><ellipse cx="37.6" cy="65.3" rx="0.79" ry="0.57"/><ellipse cx="27.0" cy="68.7" rx="0.68" ry="0.58"/><ellipse cx="32.2" cy="63.5" rx="0.70" ry="0.45"/><ellipse cx="26.1" cy="66.5" rx="0.73" ry="0.58"/><ellipse cx="33.2" cy="62.1" rx="0.84" ry="0.59"/><ellipse cx="38.5" cy="66.3" rx="0.79" ry="0.40"/><ellipse cx="36.8" cy="66.4" rx="0.61" ry="0.37"/><ellipse cx="27.4" cy="62.0" rx="0.62" ry="0.54"/><ellipse cx="34.3" cy="63.8" rx="0.85" ry="0.60"/><ellipse cx="22.6" cy="64.6" rx="0.74" ry="0.39"/><ellipse cx="38.3" cy="64.3" rx="0.68" ry="0.48"/><ellipse cx="32.6" cy="66.6" rx="0.72" ry="0.51"/><ellipse cx="39.3" cy="65.7" rx="0.67" ry="0.53"/><ellipse cx="23.5" cy="63.5" rx="0.89" ry="0.48"/><ellipse cx="27.5" cy="66.4" rx="0.51" ry="0.50"/><ellipse cx="32.4" cy="61.0" rx="0.75" ry="0.47"/><ellipse cx="33.4" cy="64.1" rx="0.78" ry="0.53"/><ellipse cx="23.8" cy="65.1" rx="0.74" ry="0.43"/><ellipse cx="26.4" cy="63.7" rx="0.65" ry="0.50"/><ellipse cx="24.9" cy="64.3" rx="0.81" ry="0.36"/><ellipse cx="31.0" cy="68.0" rx="0.62" ry="0.41"/><ellipse cx="36.2" cy="62.9" rx="0.57" ry="0.46"/><ellipse cx="33.8" cy="61.5" rx="0.63" ry="0.43"/><ellipse cx="36.9" cy="65.0" rx="0.84" ry="0.39"/><ellipse cx="25.7" cy="67.2" rx="0.85" ry="0.46"/><ellipse cx="30.1" cy="62.4" rx="0.82" ry="0.56"/><ellipse cx="22.3" cy="63.3" rx="0.82" ry="0.51"/><ellipse cx="36.3" cy="64.0" rx="0.55" ry="0.42"/><ellipse cx="36.0" cy="63.2" rx="0.64" ry="0.45"/><ellipse cx="27.6" cy="64.7" rx="0.87" ry="0.39"/><ellipse cx="27.9" cy="70.3" rx="0.87" ry="0.41"/><ellipse cx="34.9" cy="69.1" rx="0.77" ry="0.48"/><ellipse cx="24.7" cy="63.9" rx="0.59" ry="0.37"/><ellipse cx="31.4" cy="63.4" rx="0.82" ry="0.36"/><ellipse cx="38.4" cy="67.6" rx="0.87" ry="0.57"/><ellipse cx="38.4" cy="66.4" rx="0.51" ry="0.54"/><ellipse cx="22.0" cy="63.5" rx="0.77" ry="0.48"/><ellipse cx="27.5" cy="70.2" rx="0.74" ry="0.44"/><ellipse cx="23.9" cy="69.4" rx="0.69" ry="0.55"/><ellipse cx="26.1" cy="62.5" rx="0.71" ry="0.55"/><ellipse cx="22.0" cy="68.6" rx="0.87" ry="0.55"/><ellipse cx="32.3" cy="69.4" rx="0.52" ry="0.42"/><ellipse cx="24.2" cy="65.9" rx="0.67" ry="0.47"/><ellipse cx="20.1" cy="65.6" rx="0.63" ry="0.43"/><ellipse cx="26.1" cy="67.1" rx="0.73" ry="0.44"/><ellipse cx="22.5" cy="63.8" rx="0.55" ry="0.49"/><ellipse cx="34.2" cy="64.4" rx="0.53" ry="0.39"/><ellipse cx="26.6" cy="66.7" rx="0.81" ry="0.45"/><ellipse cx="36.1" cy="66.9" rx="0.67" ry="0.44"/><ellipse cx="29.3" cy="67.7" rx="0.67" ry="0.52"/><ellipse cx="28.5" cy="62.9" rx="0.71" ry="0.52"/><ellipse cx="19.8" cy="64.8" rx="0.67" ry="0.57"/><ellipse cx="39.2" cy="64.3" rx="0.86" ry="0.55"/><ellipse cx="24.1" cy="65.2" rx="0.55" ry="0.55"/><ellipse cx="32.9" cy="75.5" rx="0.7" ry="0.4"/><ellipse cx="35.7" cy="74.7" rx="0.7" ry="0.4"/><ellipse cx="34.4" cy="74.8" rx="0.7" ry="0.4"/><ellipse cx="20.8" cy="74.1" rx="0.7" ry="0.4"/><ellipse cx="18.7" cy="72.5" rx="0.7" ry="0.4"/><ellipse cx="35.3" cy="73.8" rx="0.7" ry="0.4"/><ellipse cx="20.6" cy="73.2" rx="0.7" ry="0.4"/><ellipse cx="37.6" cy="73.5" rx="0.7" ry="0.4"/><ellipse cx="19.1" cy="73.8" rx="0.7" ry="0.4"/><ellipse cx="21.2" cy="74.6" rx="0.7" ry="0.4"/><ellipse cx="33.1" cy="75.4" rx="0.7" ry="0.4"/><ellipse cx="39.2" cy="73.7" rx="0.7" ry="0.4"/><ellipse cx="35.9" cy="73.7" rx="0.7" ry="0.4"/><ellipse cx="35.2" cy="74.6" rx="0.7" ry="0.4"/>
</g>
</g></g>
<text x="84" y="247" font-size="4.4" fill="#333" stroke="#333" stroke-width="0.2">harvest and</text>
<text x="83.3" y="251.8" font-size="4.5" fill="#333" stroke="#333" stroke-width="0.2">culture as in</text>
<text x="89.2" y="256.4" font-size="4.5" fill="#333" stroke="#333" stroke-width="0.2">Fig. 1A</text>
<g transform="matrix(0.8 0 0 0.8 26.32 200.5)"><g>
<path d="M127.3 43.2 L127.3 54.2 L145.8 59.2 L145.8 46.2 Z" fill="#d9d9d9"/>
<path d="M145.8 46.2 L171.7 40.5 L171.1 50.8 L145.8 59.2 Z" fill="#cecece"/>
<path d="M122.6 30.8 L138.1 31.1 L137.9 40.8 L122.8 41.7 Z" fill="#363636"/>
<path d="M128.5 41.5 L137.9 32.2 L137.9 40.8 Z" fill="#474747"/>
<path d="M132.3 43.6 L138.3 36.7 L151 35.3 L170.7 38.8 L171.9 40.4 L145.8 46.2 Z" fill="#5e5e5e"/>
<path d="M132.3 43.8 L145.8 46.5 L171.9 40.7" stroke="#3a3a3a" stroke-width="0.8" fill="none"/>
<path d="M118.1 51.4 L123.2 49.2 L134.5 50.2 L129.6 52.4 Z" fill="#555"/>
<path d="M129.6 53.6 L134.2 51.6 L145.8 55.6 L145.8 59.2 Z" fill="#e9e9e9"/>
<line x1="157" y1="46" x2="164" y2="44.4" stroke="#999" stroke-width="0.4"/>
</g></g>
<text x="135.3" y="253.4" font-size="4.5" fill="#333" stroke="#333" stroke-width="0.2">uptake</text>
<text x="128" y="258.1" font-size="4.6" fill="#333" stroke="#333" stroke-width="0.2">measurement</text>
<text x="1.8" y="272.0" font-size="13">F</text>
<text x="78.9" y="269.4" font-size="8.3" stroke="#000" stroke-width="0.2" font-weight="bold" text-anchor="middle">control</text>
<text x="77.8" y="279.3" font-size="8.3" stroke="#000" stroke-width="0.2" font-weight="bold" text-anchor="middle">Scr siRNA</text>
<line x1="50" y1="283.3" x2="97.6" y2="283.3" stroke="#000" stroke-width="1.2" />
<text x="137.5" y="269.4" font-size="8.3" stroke="#000" stroke-width="0.2" font-weight="bold" text-anchor="middle">NaCT</text>
<text x="138.4" y="279.3" font-size="8.3" stroke="#000" stroke-width="0.2" font-weight="bold" text-anchor="middle">siRNA</text>
<line x1="106.4" y1="283.3" x2="164.7" y2="283.3" stroke="#000" stroke-width="1.2" />
<text x="61.0" y="293.7" font-size="9.7" fill="#111" stroke="#111" stroke-width="0.2" text-anchor="end" transform="rotate(-45 61.0 293.7)">mouse1</text>
<text x="74.4" y="293.7" font-size="9.7" fill="#111" stroke="#111" stroke-width="0.2" text-anchor="end" transform="rotate(-45 74.4 293.7)">mouse2</text>
<text x="87.8" y="293.7" font-size="9.7" fill="#111" stroke="#111" stroke-width="0.2" text-anchor="end" transform="rotate(-45 87.8 293.7)">mouse3</text>
<text x="101.2" y="293.7" font-size="9.7" fill="#111" stroke="#111" stroke-width="0.2" text-anchor="end" transform="rotate(-45 101.2 293.7)">mouse4</text>
<text x="114.6" y="293.7" font-size="9.7" fill="#111" stroke="#111" stroke-width="0.2" text-anchor="end" transform="rotate(-45 114.6 293.7)">mouse1</text>
<text x="128.0" y="293.7" font-size="9.7" fill="#111" stroke="#111" stroke-width="0.2" text-anchor="end" transform="rotate(-45 128.0 293.7)">mouse2</text>
<text x="141.4" y="293.7" font-size="9.7" fill="#111" stroke="#111" stroke-width="0.2" text-anchor="end" transform="rotate(-45 141.4 293.7)">mouse3</text>
<text x="154.8" y="293.7" font-size="9.7" fill="#111" stroke="#111" stroke-width="0.2" text-anchor="end" transform="rotate(-45 154.8 293.7)">mouse4</text>
<text x="168.3" y="292.4" font-size="9.6" fill="#ff1a1a" stroke="#ff1a1a" stroke-width="0.2" font-weight="bold" text-anchor="end" transform="rotate(-45 168.3 292.4)">mouse5</text>
<defs><filter id="bl" x="-20%" y="-50%" width="140%" height="200%"><feGaussianBlur stdDeviation="0.9"/></filter></defs>
<rect x="29.4" y="318.3" width="120" height="20.8" fill="#e9e9e9" stroke="#222" stroke-width="1"/>
<rect x="29.4" y="342.4" width="120" height="19" fill="#e9e9e9" stroke="#222" stroke-width="1"/>
<g filter="url(#bl)">
<rect x="31.9" y="329.4" width="12.6" height="4.4" rx="2.2" fill="#b8b8b8"/>
<rect x="44.7" y="329.0" width="12.6" height="5.2" rx="2.6" fill="#a2a2a2"/>
<rect x="57.6" y="329.2" width="12.6" height="4.8" rx="2.4" fill="#b4b4b4"/>
<rect x="70.4" y="328.6" width="12.6" height="6.0" rx="3.0" fill="#8a8a8a"/>
<rect x="83.2" y="330.0" width="12.6" height="3.2" rx="1.6" fill="#d6d6d6"/>
<rect x="96.1" y="329.9" width="12.6" height="3.4" rx="1.7" fill="#cdcdcd"/>
<rect x="108.9" y="329.9" width="12.6" height="3.4" rx="1.7" fill="#d0d0d0"/>
<rect x="121.7" y="329.9" width="12.6" height="3.4" rx="1.7" fill="#d4d4d4"/>
<rect x="134.5" y="328.6" width="12.6" height="6.0" rx="3.0" fill="#777"/>
<rect x="31.2" y="324.3" width="14.0" height="6.0" rx="3.0" fill="#686868"/>
<rect x="44.1" y="324.3" width="13.8" height="6.6" rx="3.2" fill="#656565"/>
<rect x="57.3" y="324.5" width="13.2" height="5.8" rx="2.9" fill="#6a6a6a"/>
<rect x="70.2" y="323.8" width="13.0" height="7.6" rx="3.2" fill="#5f5f5f"/>
<rect x="83.9" y="326.1" width="11.2" height="2.6" rx="1.3" fill="#9c9c9c"/>
<rect x="96.4" y="325.1" width="12.0" height="3.6" rx="1.8" fill="#7c7c7c"/>
<rect x="109.0" y="325.4" width="12.4" height="3.4" rx="1.7" fill="#7c7c7c"/>
<rect x="122.2" y="325.1" width="11.6" height="3.4" rx="1.7" fill="#7b7b7b"/>
<ellipse cx="140.8" cy="329.0" rx="7.2" ry="6.9" fill="#646464"/>
<rect x="31.0" y="346.8" width="14.4" height="6.8" rx="3.4" fill="#747474"/>
<rect x="44.2" y="347.2" width="13.6" height="5.4" rx="2.7" fill="#7a7a7a"/>
<rect x="57.3" y="347.5" width="13.2" height="5.2" rx="2.6" fill="#7b7b7b"/>
<rect x="72.7" y="348.5" width="8.0" height="2.2" rx="1.1" fill="#7e7e7e"/>
<rect x="82.9" y="347.7" width="13.2" height="5.4" rx="2.7" fill="#797979"/>
<rect x="95.8" y="347.7" width="13.2" height="5.2" rx="2.6" fill="#7a7a7a"/>
<rect x="108.6" y="347.9" width="13.2" height="5.2" rx="2.6" fill="#7b7b7b"/>
<rect x="121.4" y="347.7" width="13.2" height="5.2" rx="2.6" fill="#7a7a7a"/>
<rect x="135.8" y="348.3" width="10.0" height="3.0" rx="1.5" fill="#888"/>
<ellipse cx="38.5" cy="354.8" rx="5" ry="1.2" fill="#bbb"/>
</g>
<text x="0.4" y="333.3" font-size="10.9" fill="#111" stroke="#111" stroke-width="0.2">NaCT</text>
<text x="-0.2" y="354.2" font-size="10.9" fill="#111" stroke="#111" stroke-width="0.2">actin</text>
<text x="150.6" y="320" font-size="8.1" fill="#111" stroke="#111" stroke-width="0.2">75 KDa</text>
<line x1="150" y1="321.3" x2="161.7" y2="321.3" stroke="#111" stroke-width="0.8" />
<text x="150.6" y="330" font-size="8.1" fill="#111" stroke="#111" stroke-width="0.2">60 KDa</text>
<line x1="150" y1="330.8" x2="161.7" y2="330.8" stroke="#111" stroke-width="0.8" />
<text x="150.6" y="345.8" font-size="8.1" fill="#111" stroke="#111" stroke-width="0.2">45 KDa</text>
<line x1="150" y1="347.2" x2="161.7" y2="347.2" stroke="#111" stroke-width="0.8" />
<text x="175.8" y="197.2" font-size="13">G</text>
<text x="190.0" y="259.5" font-size="8.8" fill="#ff1a1a" stroke="#ff1a1a" stroke-width="0.2" text-anchor="middle" transform="rotate(-90 190.0 259.5)">Non-fasting blood glucose</text>
<text x="199.8" y="259.8" font-size="8.8" fill="#ff1a1a" stroke="#ff1a1a" stroke-width="0.2" text-anchor="middle" transform="rotate(-90 199.8 259.8)">(relative to pretreatment average)</text>
<line x1="220" y1="225.6" x2="220" y2="296.5" stroke="#222" stroke-width="1.1" />
<line x1="217.4" y1="296.5" x2="326.8" y2="296.5" stroke="#222" stroke-width="1.1" />
<line x1="217.2" y1="225.70000000000002" x2="220" y2="225.70000000000002" stroke="#222" stroke-width="1" />
<text x="216.2" y="228.70000000000002" font-size="8.3" fill="#222" stroke="#222" stroke-width="0.2" text-anchor="end">1.4</text>
<line x1="217.2" y1="243.4" x2="220" y2="243.4" stroke="#222" stroke-width="1" />
<text x="216.2" y="246.4" font-size="8.3" fill="#222" stroke="#222" stroke-width="0.2" text-anchor="end">1.2</text>
<line x1="217.2" y1="261.1" x2="220" y2="261.1" stroke="#222" stroke-width="1" />
<text x="216.2" y="264.1" font-size="8.3" fill="#222" stroke="#222" stroke-width="0.2" text-anchor="end">1.0</text>
<line x1="217.2" y1="278.8" x2="220" y2="278.8" stroke="#222" stroke-width="1" />
<text x="216.2" y="281.8" font-size="8.3" fill="#222" stroke="#222" stroke-width="0.2" text-anchor="end">0.8</text>
<line x1="217.2" y1="296.5" x2="220" y2="296.5" stroke="#222" stroke-width="1" />
<text x="216.2" y="299.5" font-size="8.3" fill="#222" stroke="#222" stroke-width="0.2" text-anchor="end">0.6</text>
<line x1="233.5" y1="296.5" x2="233.5" y2="299.3" stroke="#222" stroke-width="1" />
<line x1="253.5" y1="296.5" x2="253.5" y2="299.3" stroke="#222" stroke-width="1" />
<line x1="273.3" y1="296.5" x2="273.3" y2="299.3" stroke="#222" stroke-width="1" />
<line x1="293.3" y1="296.5" x2="293.3" y2="299.3" stroke="#222" stroke-width="1" />
<line x1="313.3" y1="296.5" x2="313.3" y2="299.3" stroke="#222" stroke-width="1" />
<text x="236.3" y="307.6" font-size="8.9" fill="#111" stroke="#111" stroke-width="0.2" text-anchor="end" transform="rotate(-45 236.3 307.6)">before injections</text>
<text x="256.3" y="307.6" font-size="8.9" fill="#111" stroke="#111" stroke-width="0.2" text-anchor="end" transform="rotate(-45 256.3 307.6)">week2</text>
<text x="276.1" y="307.6" font-size="8.9" fill="#111" stroke="#111" stroke-width="0.2" text-anchor="end" transform="rotate(-45 276.1 307.6)">week4</text>
<text x="296.1" y="307.6" font-size="8.9" fill="#111" stroke="#111" stroke-width="0.2" text-anchor="end" transform="rotate(-45 296.1 307.6)">week6</text>
<text x="316.1" y="307.6" font-size="8.9" fill="#111" stroke="#111" stroke-width="0.2" text-anchor="end" transform="rotate(-45 316.1 307.6)">week7</text>
<path d="M233.4 261.5 L253.5 257.2 L273.4 247.8 L293.3 261.5 L313.3 262.5" stroke="#b02ee6" stroke-width="1.1" fill="none" />
<path d="M232.1 256.5 H234.70000000000002 M233.4 256.5 V266.5 M232.1 266.5 H234.70000000000002" stroke="#b02ee6" stroke-width="0.8" fill="none" />
<circle cx="233.4" cy="261.5" r="1.5" fill="#b02ee6"/>
<path d="M252.2 251.5 H254.8 M253.5 251.5 V263 M252.2 263 H254.8" stroke="#b02ee6" stroke-width="0.8" fill="none" />
<circle cx="253.5" cy="257.2" r="1.5" fill="#b02ee6"/>
<path d="M272.09999999999997 241.7 H274.7 M273.4 241.7 V254.9 M272.09999999999997 254.9 H274.7" stroke="#b02ee6" stroke-width="0.8" fill="none" />
<circle cx="273.4" cy="247.8" r="1.5" fill="#b02ee6"/>
<path d="M292.0 256 H294.6 M293.3 256 V267 M292.0 267 H294.6" stroke="#b02ee6" stroke-width="0.8" fill="none" />
<circle cx="293.3" cy="261.5" r="1.5" fill="#b02ee6"/>
<path d="M312.0 253.6 H314.6 M313.3 253.6 V271.5 M312.0 271.5 H314.6" stroke="#b02ee6" stroke-width="0.8" fill="none" />
<circle cx="313.3" cy="262.5" r="1.5" fill="#b02ee6"/>
<path d="M233.4 261.5 L253.5 257.2 L273.3 267.7 L293.4 273.8 L313.4 281.8" stroke="#111" stroke-width="1.25" fill="none" stroke-dasharray="2.5 1.5"/>
<path d="M232.1 254.2 H234.70000000000002 M233.4 254.2 V268.8 M232.1 268.8 H234.70000000000002" stroke="#222" stroke-width="0.8" fill="none" />
<circle cx="233.4" cy="261.5" r="1.8" fill="#111"/>
<path d="M252.2 249.3 H254.8 M253.5 249.3 V266.0 M252.2 266.0 H254.8" stroke="#222" stroke-width="0.8" fill="none" />
<circle cx="253.5" cy="257.2" r="1.8" fill="#111"/>
<path d="M272.0 262.5 H274.6 M273.3 262.5 V272.9 M272.0 272.9 H274.6" stroke="#222" stroke-width="0.8" fill="none" />
<circle cx="273.3" cy="267.7" r="1.8" fill="#111"/>
<path d="M292.09999999999997 268.6 H294.7 M293.4 268.6 V279.0 M292.09999999999997 279.0 H294.7" stroke="#222" stroke-width="0.8" fill="none" />
<circle cx="293.4" cy="273.8" r="1.8" fill="#111"/>
<path d="M312.09999999999997 278.6 H314.7 M313.4 278.6 V284.8 M312.09999999999997 284.8 H314.7" stroke="#222" stroke-width="0.8" fill="none" />
<circle cx="313.4" cy="281.8" r="1.8" fill="#111"/>
<text x="233.5" y="250" font-size="6.7" fill="#b02ee6" stroke="#b02ee6" stroke-width="0.2" text-anchor="middle">5</text>
<text x="253.5" y="247.9" font-size="6.7" fill="#b02ee6" stroke="#b02ee6" stroke-width="0.2" text-anchor="middle">5</text>
<text x="273.4" y="259.7" font-size="6.7" fill="#b02ee6" stroke="#b02ee6" stroke-width="0.2" text-anchor="middle">5</text>
<text x="293.3" y="252.8" font-size="6.7" fill="#b02ee6" stroke="#b02ee6" stroke-width="0.2" text-anchor="middle">5</text>
<text x="313.3" y="277.2" font-size="6.7" fill="#b02ee6" stroke="#b02ee6" stroke-width="0.2" text-anchor="middle">3</text>
<text x="233.5" y="278.0" font-size="6.7" fill="#333" stroke="#333" stroke-width="0.2" text-anchor="middle">6</text>
<text x="253.5" y="272.7" font-size="6.7" fill="#333" stroke="#333" stroke-width="0.2" text-anchor="middle">6</text>
<text x="273.4" y="278.3" font-size="6.7" fill="#333" stroke="#333" stroke-width="0.2" text-anchor="middle">6</text>
<text x="293.4" y="286.8" font-size="6.7" fill="#333" stroke="#333" stroke-width="0.2" text-anchor="middle">6</text>
<text x="313.4" y="291.0" font-size="6.7" fill="#333" stroke="#333" stroke-width="0.2" text-anchor="middle">6</text>
<text x="273.4" y="242.7" font-size="6.8" fill="#b02ee6" stroke="#b02ee6" stroke-width="0.2" text-anchor="middle">*</text>
<text x="313.3" y="251.1" font-size="6.8" fill="#b02ee6" stroke="#b02ee6" stroke-width="0.2" text-anchor="middle">*</text>
<text x="273.3" y="236.8" font-size="6.0" fill="#b02ee6" stroke="#b02ee6" stroke-width="0.2" text-anchor="middle">0.028090</text>
<text x="312.6" y="242.8" font-size="6.0" fill="#b02ee6" stroke="#b02ee6" stroke-width="0.2" text-anchor="middle">0.024686</text>
<text x="241.8" y="229.3" font-size="8.9" fill="#b02ee6" stroke="#b02ee6" stroke-width="0.2">control (Scr siRNA)</text>
<text x="224.6" y="290.0" font-size="8.9" fill="#111" stroke="#111" stroke-width="0.2">NaCT siRNA</text>
<text x="311.6" y="196.9" font-size="13">H</text>
<text x="339.2" y="260.6" font-size="8.9" fill="#ff1a1a" stroke="#ff1a1a" stroke-width="0.2" text-anchor="middle" transform="rotate(-90 339.2 260.6)">2DG uptake (CPM/cell)</text>
<line x1="374.6" y1="226.8" x2="374.6" y2="298.9" stroke="#222" stroke-width="1.1" />
<line x1="372" y1="298.9" x2="484.6" y2="298.9" stroke="#222" stroke-width="1.1" />
<line x1="371.8" y1="226.99999999999997" x2="374.6" y2="226.99999999999997" stroke="#222" stroke-width="1" />
<text x="371.2" y="230.29999999999998" font-size="8.9" fill="#222" stroke="#222" stroke-width="0.2" text-anchor="end">0.0025</text>
<line x1="371.8" y1="241.37999999999997" x2="374.6" y2="241.37999999999997" stroke="#222" stroke-width="1" />
<text x="371.2" y="244.67999999999998" font-size="8.9" fill="#222" stroke="#222" stroke-width="0.2" text-anchor="end">0.0020</text>
<line x1="371.8" y1="255.76" x2="374.6" y2="255.76" stroke="#222" stroke-width="1" />
<text x="371.2" y="259.06" font-size="8.9" fill="#222" stroke="#222" stroke-width="0.2" text-anchor="end">0.0015</text>
<line x1="371.8" y1="270.14" x2="374.6" y2="270.14" stroke="#222" stroke-width="1" />
<text x="371.2" y="273.44" font-size="8.9" fill="#222" stroke="#222" stroke-width="0.2" text-anchor="end">0.0010</text>
<line x1="371.8" y1="284.52" x2="374.6" y2="284.52" stroke="#222" stroke-width="1" />
<text x="371.2" y="287.82" font-size="8.9" fill="#222" stroke="#222" stroke-width="0.2" text-anchor="end">0.0005</text>
<line x1="371.8" y1="298.9" x2="374.6" y2="298.9" stroke="#222" stroke-width="1" />
<text x="371.2" y="302.2" font-size="8.9" fill="#222" stroke="#222" stroke-width="0.2" text-anchor="end">0.0000</text>
<line x1="388.6" y1="298.9" x2="388.6" y2="301.9" stroke="#222" stroke-width="1" />
<line x1="409.3" y1="298.9" x2="409.3" y2="301.9" stroke="#222" stroke-width="1" />
<line x1="429.7" y1="298.9" x2="429.7" y2="301.9" stroke="#222" stroke-width="1" />
<line x1="450.1" y1="298.9" x2="450.1" y2="301.9" stroke="#222" stroke-width="1" />
<line x1="470.3" y1="298.9" x2="470.3" y2="301.9" stroke="#222" stroke-width="1" />
<text x="392.0" y="310.7" font-size="9.4" fill="#111" stroke="#111" stroke-width="0.2" font-weight="bold" text-anchor="end" transform="rotate(-45 392.0 310.7)">4 h</text>
<text x="412.7" y="310.7" font-size="9.4" fill="#111" stroke="#111" stroke-width="0.2" font-weight="bold" text-anchor="end" transform="rotate(-45 412.7 310.7)">8 h</text>
<text x="433.1" y="310.7" font-size="9.4" fill="#111" stroke="#111" stroke-width="0.2" font-weight="bold" text-anchor="end" transform="rotate(-45 433.1 310.7)">10 h</text>
<text x="453.1" y="309.6" font-size="8.9" fill="#111" stroke="#111" stroke-width="0.2" text-anchor="end" font-style="italic" transform="rotate(-45 453.1 309.6)">30min</text>
<text x="473.3" y="309.6" font-size="8.9" fill="#111" stroke="#111" stroke-width="0.2" text-anchor="end" font-style="italic" transform="rotate(-45 473.3 309.6)">120min</text>
<text x="375.3" y="328.9" font-size="6.0" fill="#222" stroke="#222" stroke-width="0.2">****P&lt;0.000001</text>
<text x="390.0" y="217.9" font-size="6.0" fill="#222" stroke="#222" stroke-width="0.2">Glc starvation</text>
<line x1="388.7" y1="220.3" x2="429.7" y2="220.3" stroke="#000" stroke-width="1.1" />
<text x="442.9" y="212.4" font-size="6.05" fill="#222" stroke="#222" stroke-width="0.2">Glc+Cit after</text>
<text x="442.1" y="219.2" font-size="5.95" fill="#222" stroke="#222" stroke-width="0.2">8hr starvation</text>
<line x1="445" y1="220.3" x2="472.5" y2="220.3" stroke="#000" stroke-width="1.1" />
<text x="404.2" y="230" font-size="9.0" fill="#111" stroke="#111" stroke-width="0.2">NaCT siRNA</text>
<text x="391.2" y="267.2" font-size="9.0" fill="#ff1a1a" stroke="#ff1a1a" stroke-width="0.2">control (Scr siRNA)</text>
<path d="M388.7 240.8 L409.5 237.5 L429.7 243.7 L450.0 248.7 L470.8 254.2" stroke="#111" stroke-width="0.9" fill="none" stroke-dasharray="2 1.3"/>
<path d="M387.5 238.5 H389.9 M388.7 238.5 V244.5 M387.5 244.5 H389.9" stroke="#222" stroke-width="0.7" fill="none" />
<circle cx="388.7" cy="240.8" r="1.5" fill="#111"/>
<path d="M408.3 235.8 H410.7 M409.5 235.8 V240.6 M408.3 240.6 H410.7" stroke="#222" stroke-width="0.7" fill="none" />
<circle cx="409.5" cy="237.5" r="1.5" fill="#111"/>
<path d="M428.5 241.9 H430.9 M429.7 241.9 V246.0 M428.5 246.0 H430.9" stroke="#222" stroke-width="0.7" fill="none" />
<circle cx="429.7" cy="243.7" r="1.5" fill="#111"/>
<path d="M448.8 247.5 H451.2 M450.0 247.5 V250 M448.8 250 H451.2" stroke="#222" stroke-width="0.7" fill="none" />
<rect x="448.6" y="247.29999999999998" width="2.8" height="2.8" fill="#777" stroke="#111" stroke-width="0.8"/>
<path d="M469.6 253 H472.0 M470.8 253 V255.4 M469.6 255.4 H472.0" stroke="#222" stroke-width="0.7" fill="none" />
<rect x="469.40000000000003" y="252.79999999999998" width="2.8" height="2.8" fill="#777" stroke="#111" stroke-width="0.8"/>
<text x="388.0" y="239.7" font-size="8.5" fill="#111" stroke="#111" stroke-width="0.2" text-anchor="middle">****</text>
<text x="410.6" y="238.0" font-size="8.5" fill="#111" stroke="#111" stroke-width="0.2" text-anchor="middle">****</text>
<text x="430.6" y="244.2" font-size="8.5" fill="#111" stroke="#111" stroke-width="0.2" text-anchor="middle">****</text>
<text x="450.4" y="248.7" font-size="8.5" fill="#111" stroke="#111" stroke-width="0.2" text-anchor="middle">****</text>
<text x="470.8" y="254.7" font-size="8.5" fill="#111" stroke="#111" stroke-width="0.2" text-anchor="middle">****</text>
<text x="388.7" y="251.5" font-size="6.5" fill="#333" stroke="#333" stroke-width="0.2" text-anchor="middle">20</text>
<text x="409.5" y="247.3" font-size="6.5" fill="#333" stroke="#333" stroke-width="0.2" text-anchor="middle">19</text>
<text x="429.7" y="252.8" font-size="6.5" fill="#333" stroke="#333" stroke-width="0.2" text-anchor="middle">20</text>
<text x="450.0" y="257.3" font-size="6.5" fill="#333" stroke="#333" stroke-width="0.2" text-anchor="middle">20</text>
<text x="470.8" y="247.3" font-size="6.5" fill="#333" stroke="#333" stroke-width="0.2" text-anchor="middle">20</text>
<path d="M388.4 284.4 L409.0 276.9 L429.3 273.4 L449.9 290.7 L470.2 283.2" stroke="#ff1a1a" stroke-width="1.25" fill="none" />
<circle cx="388.4" cy="284.4" r="1.8" fill="#ff1a1a"/>
<path d="M388.4 282.0 V286.79999999999995 M387.2 282.0 H389.59999999999997" stroke="#ff1a1a" stroke-width="0.8" fill="none" />
<circle cx="409.0" cy="276.9" r="1.8" fill="#ff1a1a"/>
<path d="M409.0 274.5 V279.29999999999995 M407.8 274.5 H410.2" stroke="#ff1a1a" stroke-width="0.8" fill="none" />
<circle cx="429.3" cy="273.4" r="1.8" fill="#ff1a1a"/>
<path d="M429.3 271.0 V275.79999999999995 M428.1 271.0 H430.5" stroke="#ff1a1a" stroke-width="0.8" fill="none" />
<rect x="447.9" y="288.7" width="4.0" height="4.0" fill="none" stroke="#ff1a1a" stroke-width="0.8"/>
<rect x="448.59999999999997" y="289.4" width="2.6" height="2.6" fill="#ddd" stroke="#222" stroke-width="0.9"/>
<rect x="468.2" y="281.2" width="4.0" height="4.0" fill="none" stroke="#ff1a1a" stroke-width="0.8"/>
<rect x="468.9" y="281.9" width="2.6" height="2.6" fill="#ddd" stroke="#222" stroke-width="0.9"/>
<text x="388.6" y="294.2" font-size="6.5" fill="#ff1a1a" stroke="#ff1a1a" stroke-width="0.2" text-anchor="middle">12</text>
<text x="409.2" y="286.7" font-size="6.5" fill="#ff1a1a" stroke="#ff1a1a" stroke-width="0.2" text-anchor="middle">12</text>
<text x="429.5" y="282.5" font-size="6.5" fill="#ff1a1a" stroke="#ff1a1a" stroke-width="0.2" text-anchor="middle">12</text>
<text x="450" y="286.7" font-size="6.5" fill="#ff1a1a" stroke="#ff1a1a" stroke-width="0.2" text-anchor="middle">12</text>
<text x="470.6" y="292" font-size="6.5" fill="#ff1a1a" stroke="#ff1a1a" stroke-width="0.2" text-anchor="middle">12</text>
<text x="496.8" y="197.4" font-size="13">I</text>
<rect x="545.3" y="212.2" width="27.3" height="92.9" fill="#bccbe8" stroke="#4468a8" stroke-width="0.9"/>
<rect x="572.6" y="212.2" width="28.6" height="92.9" fill="#faa4a4" stroke="#4468a8" stroke-width="0.9"/>
<line x1="524.3" y1="227.8" x2="524.3" y2="305.1" stroke="#333" stroke-width="1.2" />
<line x1="521.5" y1="305.1" x2="640.6" y2="305.1" stroke="#333" stroke-width="1.2" />
<line x1="521.5" y1="235.10000000000002" x2="524.3" y2="235.10000000000002" stroke="#333" stroke-width="1" />
<text x="520.6" y="238.40000000000003" font-size="9.3" fill="#222" stroke="#222" stroke-width="0.2" text-anchor="end">100</text>
<line x1="521.5" y1="270.1" x2="524.3" y2="270.1" stroke="#333" stroke-width="1" />
<text x="520.6" y="273.40000000000003" font-size="9.3" fill="#222" stroke="#222" stroke-width="0.2" text-anchor="end">50</text>
<line x1="521.5" y1="305.1" x2="524.3" y2="305.1" stroke="#333" stroke-width="1" />
<text x="520.6" y="308.40000000000003" font-size="9.3" fill="#222" stroke="#222" stroke-width="0.2" text-anchor="end">0</text>
<line x1="524.2" y1="305.1" x2="524.2" y2="308" stroke="#333" stroke-width="1" />
<text x="524.2" y="317.9" font-size="9.2" fill="#222" stroke="#222" stroke-width="0.2" text-anchor="middle">0</text>
<line x1="553.12" y1="305.1" x2="553.12" y2="308" stroke="#333" stroke-width="1" />
<text x="553.12" y="317.9" font-size="9.2" fill="#222" stroke="#222" stroke-width="0.2" text-anchor="middle">20</text>
<line x1="582.0400000000001" y1="305.1" x2="582.0400000000001" y2="308" stroke="#333" stroke-width="1" />
<text x="582.0400000000001" y="317.9" font-size="9.2" fill="#222" stroke="#222" stroke-width="0.2" text-anchor="middle">40</text>
<line x1="610.96" y1="305.1" x2="610.96" y2="308" stroke="#333" stroke-width="1" />
<text x="610.96" y="317.9" font-size="9.2" fill="#222" stroke="#222" stroke-width="0.2" text-anchor="middle">60</text>
<line x1="639.88" y1="305.1" x2="639.88" y2="308" stroke="#333" stroke-width="1" />
<text x="639.88" y="317.9" font-size="9.2" fill="#222" stroke="#222" stroke-width="0.2" text-anchor="middle">80</text>
<text x="582.8" y="334.3" font-size="9.8" fill="#222" stroke="#222" stroke-width="0.2" text-anchor="middle">Time (min)</text>
<text x="495.6" y="273.0" font-size="9.9" fill="#222" stroke="#222" stroke-width="0.2" text-anchor="middle" transform="rotate(-90 495.6 273.0)">ECAR</text>
<text x="505.4" y="273.0" font-size="9.9" fill="#222" stroke="#222" stroke-width="0.2" text-anchor="middle" transform="rotate(-90 505.4 273.0)">(mpH/min/cell)</text>
<text x="557.3" y="200.8" font-size="7.3" stroke="#000" stroke-width="0.2" font-weight="bold" text-anchor="middle">2.5</text>
<text x="559.9" y="210.4" font-size="7.5" stroke="#000" stroke-width="0.2" font-weight="bold" text-anchor="middle">glucose</text>
<text x="587.6" y="204.9" font-size="7.3" stroke="#000" stroke-width="0.2" font-weight="bold" text-anchor="middle">oligo.</text>
<text x="616.8" y="203.9" font-size="7.0" stroke="#000" stroke-width="0.2" font-weight="bold" text-anchor="middle">2-DG</text>
<path d="M525.8 289.6 L535.2 290.1 L544.6 290.7 L553.5 258.6 L563.2 253.5 L573.0 252.8 L582.1 254.0 L591.4 255.0 L600.8 254.8 L610.5 288.8 L619.7 291.1 L629.3 292.9" stroke="#111" stroke-width="1.0" fill="none" />
<path d="M524.0999999999999 288.1 L527.5 288.1 L525.8 291.20000000000005 Z" stroke="none" stroke-width="1" fill="#111" />
<path d="M533.5 288.6 L536.9000000000001 288.6 L535.2 291.70000000000005 Z" stroke="none" stroke-width="1" fill="#111" />
<path d="M542.9 289.2 L546.3000000000001 289.2 L544.6 292.3 Z" stroke="none" stroke-width="1" fill="#111" />
<path d="M551.8 257.1 L555.2 257.1 L553.5 260.20000000000005 Z" stroke="none" stroke-width="1" fill="#111" />
<path d="M561.5 252.0 L564.9000000000001 252.0 L563.2 255.1 Z" stroke="none" stroke-width="1" fill="#111" />
<path d="M571.3 251.3 L574.7 251.3 L573.0 254.4 Z" stroke="none" stroke-width="1" fill="#111" />
<path d="M580.4 252.5 L583.8000000000001 252.5 L582.1 255.6 Z" stroke="none" stroke-width="1" fill="#111" />
<path d="M589.6999999999999 253.5 L593.1 253.5 L591.4 256.6 Z" stroke="none" stroke-width="1" fill="#111" />
<path d="M599.0999999999999 253.3 L602.5 253.3 L600.8 256.40000000000003 Z" stroke="none" stroke-width="1" fill="#111" />
<path d="M608.8 287.3 L612.2 287.3 L610.5 290.40000000000003 Z" stroke="none" stroke-width="1" fill="#111" />
<path d="M618.0 289.6 L621.4000000000001 289.6 L619.7 292.70000000000005 Z" stroke="none" stroke-width="1" fill="#111" />
<path d="M627.5999999999999 291.4 L631.0 291.4 L629.3 294.5 Z" stroke="none" stroke-width="1" fill="#111" />
<path d="M525.8 285.8 L535.2 286.3 L544.6 286.8 L553.5 254.6 L563.2 246.7 L573.0 246.2 L582.1 248.7 L591.4 250.5 L600.8 250.3 L610.5 288.4 L619.7 290.4 L629.3 292.2" stroke="#111" stroke-width="1.0" fill="none" stroke-dasharray="2.2 1.3"/>
<path d="M524.0999999999999 284.3 L527.5 284.3 L525.8 287.40000000000003 Z" stroke="none" stroke-width="1" fill="#111" />
<path d="M533.5 284.8 L536.9000000000001 284.8 L535.2 287.90000000000003 Z" stroke="none" stroke-width="1" fill="#111" />
<path d="M542.9 285.3 L546.3000000000001 285.3 L544.6 288.40000000000003 Z" stroke="none" stroke-width="1" fill="#111" />
<path d="M551.8 253.1 L555.2 253.1 L553.5 256.2 Z" stroke="none" stroke-width="1" fill="#111" />
<path d="M561.5 245.2 L564.9000000000001 245.2 L563.2 248.29999999999998 Z" stroke="none" stroke-width="1" fill="#111" />
<path d="M571.3 244.7 L574.7 244.7 L573.0 247.79999999999998 Z" stroke="none" stroke-width="1" fill="#111" />
<path d="M580.4 247.2 L583.8000000000001 247.2 L582.1 250.29999999999998 Z" stroke="none" stroke-width="1" fill="#111" />
<path d="M589.6999999999999 249.0 L593.1 249.0 L591.4 252.1 Z" stroke="none" stroke-width="1" fill="#111" />
<path d="M599.0999999999999 248.8 L602.5 248.8 L600.8 251.9 Z" stroke="none" stroke-width="1" fill="#111" />
<path d="M608.8 286.9 L612.2 286.9 L610.5 290.0 Z" stroke="none" stroke-width="1" fill="#111" />
<path d="M618.0 288.9 L621.4000000000001 288.9 L619.7 292.0 Z" stroke="none" stroke-width="1" fill="#111" />
<path d="M627.5999999999999 290.7 L631.0 290.7 L629.3 293.8 Z" stroke="none" stroke-width="1" fill="#111" />
<path d="M525.8 284.6 L535.2 284.0 L544.6 285.0 L553.5 245.0 L563.2 237.8 L573.0 237.2 L582.1 238.6 L591.4 241.0 L600.8 241.0 L610.5 287.6 L619.7 290.0 L629.3 291.4" stroke="#1414f0" stroke-width="1.0" fill="none" stroke-dasharray="2 1.2"/>
<path d="M525.8 283.1 L535.2 282.3 L544.6 283.7 L553.5 244.5 L563.2 236.8 L573.0 236.4 L582.1 237.7 L591.4 240.5 L600.8 240.7 L610.5 286.8 L619.7 289.2 L629.3 290.7" stroke="#1414f0" stroke-width="1.1" fill="none" />
<rect x="524.3" y="283.1" width="3" height="3" fill="#1414f0"/>
<rect x="533.7" y="282.5" width="3" height="3" fill="#1414f0"/>
<rect x="543.1" y="283.5" width="3" height="3" fill="#1414f0"/>
<rect x="552.0" y="243.5" width="3" height="3" fill="#1414f0"/>
<rect x="561.7" y="236.3" width="3" height="3" fill="#1414f0"/>
<rect x="571.5" y="235.7" width="3" height="3" fill="#1414f0"/>
<rect x="580.6" y="237.1" width="3" height="3" fill="#1414f0"/>
<rect x="589.9" y="239.5" width="3" height="3" fill="#1414f0"/>
<rect x="599.3" y="239.5" width="3" height="3" fill="#1414f0"/>
<rect x="609.0" y="286.1" width="3" height="3" fill="#1414f0"/>
<rect x="618.2" y="288.5" width="3" height="3" fill="#1414f0"/>
<rect x="627.8" y="289.9" width="3" height="3" fill="#1414f0"/>
<rect x="523.8" y="281.1" width="4.0" height="4.0" fill="#1414f0"/>
<rect x="533.2" y="280.3" width="4.0" height="4.0" fill="#1414f0"/>
<rect x="542.6" y="281.7" width="4.0" height="4.0" fill="#1414f0"/>
<rect x="551.5" y="242.5" width="4.0" height="4.0" fill="#1414f0"/>
<rect x="561.2" y="234.8" width="4.0" height="4.0" fill="#1414f0"/>
<rect x="571.0" y="234.4" width="4.0" height="4.0" fill="#1414f0"/>
<rect x="580.1" y="235.7" width="4.0" height="4.0" fill="#1414f0"/>
<rect x="589.4" y="238.5" width="4.0" height="4.0" fill="#1414f0"/>
<rect x="598.8" y="238.7" width="4.0" height="4.0" fill="#1414f0"/>
<rect x="608.5" y="284.8" width="4.0" height="4.0" fill="#1414f0"/>
<rect x="617.7" y="287.2" width="4.0" height="4.0" fill="#1414f0"/>
<rect x="627.3" y="288.7" width="4.0" height="4.0" fill="#1414f0"/>
<text x="592.2" y="224.0" font-size="9.6" fill="#1414f0" stroke="#1414f0" stroke-width="0.2" font-family="'Liberation Serif', serif">control (1 mM citrate)</text>
<text x="592.2" y="235.1" font-size="9.6" fill="#1414f0" stroke="#1414f0" stroke-width="0.2" font-family="'Liberation Serif', serif">control (citrate-free)</text>
<text x="605.3" y="248.6" font-size="9.6" font-family="&apos;Liberation Serif&apos;, serif" fill="#222" stroke="#222" stroke-width="0.35">NaCT (citrate-free)</text>
<text x="605.8" y="259.4" font-size="9.6" font-family="&apos;Liberation Serif&apos;, serif" fill="#222" stroke="#222" stroke-width="0.35">NaCT(1 mM citrate)</text>
</svg>
</body></html>
